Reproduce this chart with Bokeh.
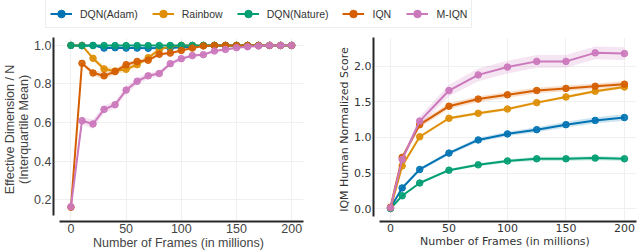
from bokeh.plotting import figure
from bokeh.layouts import column, row
from bokeh.models import (Range1d, FixedTicker, PrintfTickFormatter, Legend,
                          LegendItem)
from bokeh.embed import file_html
from bokeh.resources import INLINE

# ---------------- data ----------------
names = ["DQN(Adam)", "Rainbow", "DQN(Nature)", "IQN", "M-IQN"]
colors = ["#0173b2", "#de8f05", "#029e73", "#d55e00", "#cc78bc"]

# Left panel: effective dimension / N
frames_left = [0, 10, 20, 30, 40, 50, 60, 70, 80, 90, 100,
               110, 120, 130, 140, 150, 160, 170, 180, 190, 200]
ed_dqn_adam = [1.0, 1.0, 1.0, 0.986, 0.988, 0.986, 0.986, 0.985, 0.986, 0.987, 0.99,
               0.993, 1.0, 1.0, 1.0, 1.0, 1.0, 1.0, 1.0, 1.0, 1.0]
ed_rainbow = [1.0, 1.0, 0.933, 0.878, 0.867, 0.876, 0.9, 0.936, 0.978, 0.995, 1.0,
              1.0, 1.0, 1.0, 1.0, 1.0, 1.0, 1.0, 1.0, 1.0, 1.0]
ed_dqn_nature = [1.0, 0.998, 0.999, 0.999, 0.999, 0.999, 0.999, 0.999, 0.999, 1.0, 1.0,
                 1.0, 1.0, 1.0, 1.0, 1.0, 1.0, 1.0, 1.0, 1.0, 1.0]
ed_iqn = [0.16, 0.907, 0.857, 0.842, 0.864, 0.9, 0.917, 0.923, 0.954, 0.96, 0.974,
          0.986, 0.997, 1.0, 1.0, 1.0, 1.0, 1.0, 1.0, 1.0, 1.0]
ed_miqn = [0.163, 0.609, 0.592, 0.668, 0.692, 0.768, 0.814, 0.842, 0.854, 0.905, 0.931,
           0.947, 0.952, 0.971, 0.979, 0.988, 0.993, 0.997, 1.0, 1.0, 1.0]
ed_err_dqn_adam = [0.002, 0.002, 0.003, 0.004, 0.004, 0.004, 0.004, 0.004, 0.004, 0.004, 0.003,
                   0.003, 0.002, 0.002, 0.002, 0.002, 0.002, 0.002, 0.002, 0.002, 0.002]
ed_err_rainbow = [0.0, 0.002, 0.01, 0.015, 0.015, 0.015, 0.012, 0.01, 0.008, 0.004, 0.002,
                  0.002, 0.002, 0.002, 0.002, 0.002, 0.002, 0.002, 0.002, 0.002, 0.002]
ed_err_dqn_nature = [0.0, 0.002, 0.002, 0.002, 0.002, 0.002, 0.002, 0.002, 0.002, 0.002, 0.002,
                     0.002, 0.002, 0.002, 0.002, 0.002, 0.002, 0.002, 0.002, 0.002, 0.002]
ed_err_iqn = [0.003, 0.008, 0.015, 0.018, 0.015, 0.012, 0.01, 0.01, 0.008, 0.007, 0.005,
              0.004, 0.002, 0.002, 0.002, 0.002, 0.002, 0.002, 0.002, 0.002, 0.002]
ed_err_miqn = [0.005, 0.02, 0.025, 0.02, 0.02, 0.02, 0.018, 0.015, 0.015, 0.012, 0.01,
               0.008, 0.007, 0.006, 0.005, 0.004, 0.003, 0.003, 0.003, 0.003, 0.003]

# Right panel: IQM human normalized score
frames_right = [0, 10, 25, 50, 75, 100, 125, 150, 175, 200]
iqm_dqn_adam = [0.01, 0.29, 0.55, 0.78, 0.965, 1.05, 1.11, 1.18, 1.24, 1.28]
iqm_rainbow = [0.0, 0.60, 1.01, 1.27, 1.34, 1.40, 1.49, 1.57, 1.65, 1.71]
iqm_dqn_nature = [0.0, 0.18, 0.36, 0.54, 0.615, 0.67, 0.70, 0.70, 0.71, 0.70]
iqm_iqn = [0.02, 0.72, 1.18, 1.44, 1.54, 1.60, 1.66, 1.69, 1.72, 1.75]
iqm_miqn = [0.01, 0.69, 1.23, 1.66, 1.88, 1.99, 2.07, 2.07, 2.19, 2.18]
iqm_err_dqn_adam = [0.005, 0.015, 0.02, 0.025, 0.03, 0.03, 0.035, 0.04, 0.045, 0.045]
iqm_err_rainbow = [0.005, 0.02, 0.02, 0.02, 0.02, 0.02, 0.02, 0.02, 0.02, 0.02]
iqm_err_dqn_nature = [0.005, 0.01, 0.015, 0.02, 0.02, 0.025, 0.03, 0.03, 0.03, 0.03]
iqm_err_iqn = [0.01, 0.03, 0.04, 0.04, 0.04, 0.04, 0.04, 0.04, 0.04, 0.04]
iqm_err_miqn = [0.01, 0.04, 0.07, 0.08, 0.09, 0.09, 0.09, 0.09, 0.09, 0.09]

left_ticks_x = [0, 50, 100, 150, 200]
left_ticks_y = [0.2, 0.4, 0.6, 0.8, 1.0]
right_ticks_x = [0, 50, 100, 150, 200]
right_ticks_y = [0.0, 0.5, 1.0, 1.5, 2.0]

left_series = [ed_dqn_adam, ed_rainbow, ed_dqn_nature, ed_iqn, ed_miqn]
left_errs = [ed_err_dqn_adam, ed_err_rainbow, ed_err_dqn_nature, ed_err_iqn, ed_err_miqn]
right_series = [iqm_dqn_adam, iqm_rainbow, iqm_dqn_nature, iqm_iqn, iqm_miqn]
right_errs = [iqm_err_dqn_adam, iqm_err_rainbow, iqm_err_dqn_nature, iqm_err_iqn, iqm_err_miqn]


def style(p, font, fsize, xt, yt, xbounds, ybounds, color):
    p.outline_line_color = None
    for ax in (p.xaxis[0], p.yaxis[0]):
        ax.axis_line_color = "#262626"
        ax.axis_line_width = 2
        ax.major_tick_line_color = None
        ax.minor_tick_line_color = None
        ax.major_tick_out = 0
        ax.major_tick_in = 0
        ax.minor_tick_out = 0
        ax.major_label_text_font = font
        ax.major_label_text_font_size = fsize
        ax.major_label_text_color = color
        ax.axis_label_text_font = font
        ax.axis_label_text_font_size = fsize
        ax.axis_label_text_color = color
        ax.axis_label_text_font_style = "normal"
        ax.axis_label_text_line_height = 1.0
        ax.major_label_standoff = 2
        ax.axis_label_standoff = 0
    p.xaxis[0].ticker = FixedTicker(ticks=xt)
    p.yaxis[0].ticker = FixedTicker(ticks=yt)
    p.yaxis[0].formatter = PrintfTickFormatter(format="%.1f")
    p.xaxis[0].bounds = xbounds
    p.yaxis[0].bounds = ybounds
    p.xgrid[0].ticker = FixedTicker(ticks=xt)
    p.ygrid[0].ticker = FixedTicker(ticks=yt)
    p.grid.grid_line_color = "#f0f0f0"
    p.grid.grid_line_width = 1


def draw(p, x, series, errs):
    for ys, es, c in zip(series, errs, colors):
        lo = [y - e for y, e in zip(ys, es)]
        hi = [y + e for y, e in zip(ys, es)]
        p.varea(x=x, y1=lo, y2=hi, fill_color=c, fill_alpha=0.2)
    for ys, c in zip(series, colors):
        p.line(x=x, y=ys, line_color=c, line_width=2)
        p.scatter(x=x, y=ys, size=6.5, fill_color=c, line_color=c, fill_alpha=0.9)


# ---------------- left figure ----------------
p1 = figure(width=310, height=222, output_backend="svg", toolbar_location=None,
            x_range=Range1d(-15.8, 210.7), y_range=Range1d(0.086, 1.041),
            min_border_top=7, min_border_right=7, min_border_left=49, min_border_bottom=30)
draw(p1, frames_left, left_series, left_errs)
p1.xaxis.axis_label = "Number of Frames (in millions)"
p1.yaxis.axis_label = "Effective Dimension / N\n(Interquartile Mean)"
style(p1, "Liberation Sans", "12.5px", left_ticks_x, left_ticks_y, (-10.4, 210.7), (0.117, 1.041), "#444444")

# ---------------- right figure ----------------
p2 = figure(width=330, height=222, output_backend="svg", toolbar_location=None,
            x_range=Range1d(-14.5, 210.3), y_range=Range1d(-0.182, 2.406),
            min_border_top=7, min_border_right=4, min_border_left=63, min_border_bottom=30)
draw(p2, frames_right, right_series, right_errs)
p2.xaxis.axis_label = "Number of Frames (in millions)"
p2.yaxis.axis_label = "IQM Human Normalized Score"
style(p2, "DejaVu Sans", "11px", right_ticks_x, right_ticks_y, (-9.3, 210.3), (-0.112, 2.406), "#333333")

# ---------------- legend figure ----------------
leg = figure(width=640, height=30, output_backend="svg", toolbar_location=None,
             x_range=Range1d(0, 1), y_range=Range1d(0, 1),
             x_axis_location=None, y_axis_location=None, min_border=0)
leg.grid.visible = False
leg.outline_line_color = None
items = []
for name, c in zip(names, colors):
    r1 = leg.line(x=[5, 6], y=[5, 6], line_color=c, line_width=2)
    r2 = leg.scatter(x=[5], y=[5], size=6.5, fill_color=c, line_color=c)
    items.append(LegendItem(label=name, renderers=[r1, r2]))
legend = Legend(items=items, orientation="horizontal", location=(45, 2),
                padding=4, margin=0, spacing=14, label_standoff=8,
                glyph_width=22, glyph_height=19, label_height=19,
                label_text_font="Liberation Sans", label_text_font_size="10.5px",
                label_text_color="#333333",
                border_line_color="#dddddd", border_line_width=1,
                background_fill_color="white")
leg.add_layout(legend)

layout = column(leg, row(p1, p2, spacing=0), spacing=0)
open("out.html", "w").write(file_html(layout, INLINE))
